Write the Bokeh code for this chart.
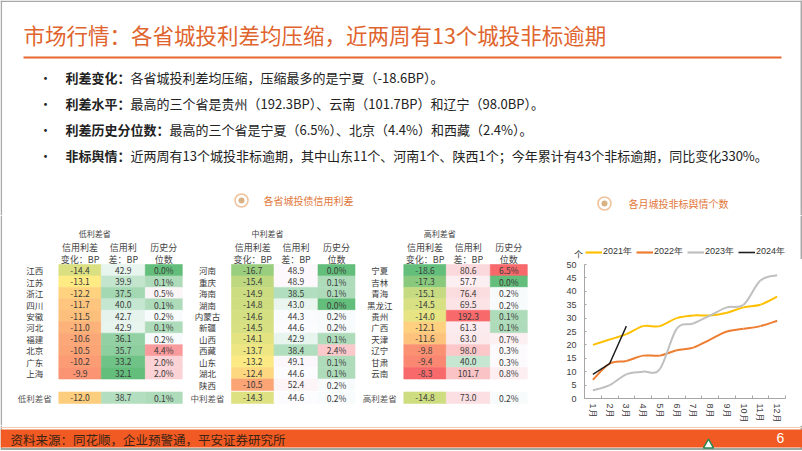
import numpy as np
from bokeh.plotting import figure
from bokeh.models import (Range1d, ColumnDataSource, LinearColorMapper, FixedTicker,
                          Legend, LegendItem)
from bokeh.layouts import column, row
from bokeh.embed import file_html
from bokeh.resources import INLINE
from bokeh.core.properties import value

CJK = "Noto Sans CJK SC"
LAT = "Liberation Sans"

# ------------------------------------------------------------------ data
title = "市场行情：各省城投利差均压缩，近两周有13个城投非标逾期"
bullet_heads = ["利差变化：", "利差水平：", "利差历史分位数：", "非标舆情："]
bullet_bodies = [
    "各省城投利差均压缩，压缩最多的是宁夏（-18.6BP）。",
    "最高的三个省是贵州（192.3BP）、云南（101.7BP）和辽宁（98.0BP）。",
    "最高的三个省是宁夏（6.5%）、北京（4.4%）和西藏（2.4%）。",
    "近两周有13个城投非标逾期，其中山东11个、河南1个、陕西1个；今年累计有43个非标逾期，同比变化330%。",
]
heading_left = "各省城投债信用利差"
heading_right = "各月城投非标舆情个数"
source_note = "资料来源：同花顺，企业预警通，平安证券研究所"
page_no = "6"

group_titles = ["低利差省", "中利差省", "高利差省"]
col_headers = [("信用利差", "变化：BP"), ("信用利", "差：BP"), ("历史分", "位数")]

low_names = ["江西", "江苏", "浙江", "四川", "安徽", "河北", "福建", "北京", "广东", "上海"]
low_chg = [-14.4, -13.1, -12.2, -11.7, -11.5, -11.0, -10.6, -10.5, -10.2, -9.9]
low_spread = [42.9, 39.9, 37.5, 40.0, 42.7, 42.9, 36.1, 35.7, 33.2, 32.1]
low_pct = [0.0, 0.1, 0.5, 0.1, 0.2, 0.1, 0.2, 4.4, 2.0, 2.0]
low_avg = [-12.0, 38.7, 0.1]

mid_names = ["河南", "重庆", "海南", "湖南", "内蒙古", "新疆", "山西", "西藏", "山东", "湖北", "陕西"]
mid_chg = [-16.7, -15.4, -14.9, -14.8, -14.6, -14.5, -14.1, -13.7, -13.2, -12.4, -10.5]
mid_spread = [48.9, 48.9, 38.5, 43.0, 44.3, 44.6, 42.9, 38.4, 49.1, 44.6, 52.4]
mid_pct = [0.0, 0.1, 0.1, 0.0, 0.2, 0.2, 0.1, 2.4, 0.1, 0.1, 0.2]
mid_avg = [-14.3, 44.6, 0.2]

high_names = ["宁夏", "吉林", "青海", "黑龙江", "贵州", "广西", "天津", "辽宁", "甘肃", "云南"]
high_chg = [-18.6, -17.3, -15.1, -14.5, -14.0, -12.1, -11.6, -9.8, -9.4, -8.3]
high_spread = [80.6, 57.7, 76.4, 69.5, 192.3, 61.3, 63.0, 98.0, 40.0, 101.7]
high_pct = [6.5, 0.0, 0.2, 0.2, 0.1, 0.1, 0.7, 0.3, 0.3, 0.8]
high_avg = [-14.8, 73.0, 0.2]

months = ["1月", "2月", "3月", "4月", "5月", "6月", "7月", "8月", "9月", "10月", "11月", "12月"]
years = ["2021年", "2022年", "2023年", "2024年"]
s2021 = [20, 22, 24, 27, 27, 30, 31, 31, 32, 34, 35, 38]
s2022 = [7, 13, 14, 16, 16, 18, 19, 22, 25, 26, 27, 29]
s2023 = [3, 5, 9, 10, 11, 26, 28, 31, 34, 35, 44, 46]
s2024 = [9, 13, 27]
unit_label = "个"

# ------------------------------------------------------------------ styles
ORANGE = "#E0642D"
TXT = "#333333"
BORDER = "#A8A8A8"
GREEN, YELLOW, WHITE, RED = "#63BE7B", "#FFEB84", "#FCFCFF", "#F8696B"
LINE_COLORS = ["#FFC000", "#ED7D31", "#BFBFBF", "#1F1F1F"]


def base_fig(w, h, xr, yr):
    f = figure(width=w, height=h, x_range=Range1d(*xr), y_range=Range1d(*yr),
               x_axis_type=None, y_axis_type=None, toolbar_location=None,
               output_backend="svg", min_border=0, outline_line_color=None,
               background_fill_color="white", border_fill_color="white",
               frame_align=False)
    f.grid.visible = False
    return f


def txt(f, x, y, s, size, color=TXT, align="left", font=CJK, style="normal"):
    f.text(x=[x], y=[y], text=[s], text_font=value(font), text_font_size=size,
           text_color=color, text_align=align, text_baseline="middle",
           text_font_style=style)


def vline(f, x, y0, y1):
    f.segment(x0=[x], y0=[y0], x1=[x], y1=[y1], line_color=BORDER, line_width=1.5)


# ------------------------------------------------------------------ top area
top = base_fig(802, 215, (0, 802), (215, 0))
top.segment(x0=[0], y0=[0.8], x1=[802], y1=[0.8], line_color=BORDER, line_width=1.5)
vline(top, 0.8, 0, 215)
vline(top, 800.8, 0, 215)
txt(top, 23, 33.5, title, "21.5px", ORANGE)
top.segment(x0=[23], y0=[57], x1=[781], y1=[57], line_color="#E8672F", line_width=2)

BUL_Y = [76.5, 102.5, 128.5, 154.5]
FS = 13.0
for yy, head, body in zip(BUL_Y, bullet_heads, bullet_bodies):
    txt(top, 45, yy, "•", "13px", "#222222", align="center")
    txt(top, 65, yy, head, "13px", "#222222", style="bold")
    txt(top, 65 + len(head) * FS, yy, body, "13px", "#222222")

for (cx, cy, tx, s) in [(241, 200, 263, heading_left), (604, 203, 628, heading_right)]:
    top.scatter(x=[cx], y=[cy], size=13, marker="circle", fill_color="white",
                line_color="#F0C39C", line_width=1.6)
    top.scatter(x=[cx], y=[cy], size=6, marker="circle", fill_color="#D8B283",
                line_color=None)
    txt(top, tx, cy, s, "10px", "#E2773A")

# ------------------------------------------------------------------ table
tbl = base_fig(555, 210, (0, 555), (425, 215))
vline(tbl, 0.8, 215, 425)

groups = [
    (low_names, low_chg, low_spread, low_pct, low_avg),
    (mid_names, mid_chg, mid_spread, mid_pct, mid_avg),
    (high_names, high_chg, high_spread, high_pct, high_avg),
]
X0 = [58.3, 231.0, 403.3]
COL_LEFT = [0.0, 42.5, 86.5]
COL_W = [42.5, 44.0, 37.0]
ROW_TOP, ROW_H, AVG_Y = 264.0, 11.45, 397.2
FMT = ["{:.1f}", "{:.1f}", "{:.1f}%"]


def scale_palette(lo, mid, hi, c0, c1, c2, n=800):
    def rgb(h):
        h = h.lstrip("#")
        return [int(h[i:i + 2], 16) for i in (0, 2, 4)]
    a0, a1, a2 = rgb(c0), rgb(c1), rgb(c2)
    out = []
    for v in np.linspace(lo, hi, n):
        if v <= mid:
            t, a, b = (v - lo) / (mid - lo), a0, a1
        else:
            t, a, b = (v - mid) / (hi - mid), a1, a2
        out.append("#%02x%02x%02x" % tuple(int(round(a[i] + (b[i] - a[i]) * t)) for i in range(3)))
    return out


for k in range(3):
    allv = np.array([v for g in groups for v in g[k + 1]], dtype=float)
    lo, md, hi = allv.min(), float(np.median(allv)), allv.max()
    cols = (GREEN, YELLOW, RED) if k == 0 else (GREEN, WHITE, RED)
    mapper = LinearColorMapper(palette=scale_palette(lo, md, hi, *cols), low=lo, high=hi)
    d = dict(x=[], y=[], w=[], v=[], s=[])
    for gi, g in enumerate(groups):
        vals = list(g[k + 1]) + [g[4][k]]
        ys = [ROW_TOP + ROW_H * (i + 0.5) for i in range(len(g[k + 1]))] + [AVG_Y]
        for v, yy in zip(vals, ys):
            d["x"].append(X0[gi] + COL_LEFT[k] + COL_W[k] / 2)
            d["y"].append(yy)
            d["w"].append(COL_W[k])
            d["v"].append(v)
            d["s"].append(FMT[k].format(v))
    src = ColumnDataSource(d)
    tbl.rect(x="x", y="y", width="w", height=ROW_H, source=src,
             fill_color={"field": "v", "transform": mapper},
             line_color={"field": "v", "transform": mapper}, line_width=0.6)
    tbl.text(x="x", y="y", text="s", source=src, text_font=value(CJK),
             text_font_size="8.5px", text_color="#3a3a3a", text_align="center",
             text_baseline="middle")

for gi, g in enumerate(groups):
    names = g[0]
    ys = [ROW_TOP + ROW_H * (i + 0.5) for i in range(len(names))]
    tbl.text(x=[X0[gi] - 24] * len(names), y=ys, text=names, text_font=value(CJK),
             text_font_size="8.5px", text_color="#3a3a3a", text_align="center",
             text_baseline="middle")
    txt(tbl, X0[gi] - 24, AVG_Y, group_titles[gi], "8.5px", "#555555", align="center")
    txt(tbl, X0[gi] + 36, 233, group_titles[gi], "8px", "#444444", align="center")
    for k in range(3):
        cx = X0[gi] + COL_LEFT[k] + COL_W[k] / 2
        txt(tbl, cx, 247, col_headers[k][0], "9px", "#444444", align="center")
        txt(tbl, cx, 258.5, col_headers[k][1], "9px", "#444444", align="center")

# ------------------------------------------------------------------ chart legend strip
leg = base_fig(247, 44, (555, 802), (259, 215))
vline(leg, 800.8, 215, 259)
txt(leg, 578, 253.5, unit_label, "9px", "#333333", align="center")

# ------------------------------------------------------------------ line chart
ch = figure(width=247, height=166, x_range=Range1d(0.5, 12.5), y_range=Range1d(0, 50),
            toolbar_location=None, output_backend="svg", min_border_left=29,
            min_border_right=17, min_border_top=5, min_border_bottom=27,
            outline_line_color=None, background_fill_color="white",
            border_fill_color="white", frame_align=False)
ch.grid.visible = False

xm = np.arange(1, 13)


def smooth_source(xs, ys):
    P = np.column_stack([xs, ys]).astype(float)
    n = len(P)
    d = dict(x0=[], y0=[], x1=[], y1=[], cx0=[], cy0=[], cx1=[], cy1=[])
    for i in range(n - 1):
        p0 = P[i - 1] if i > 0 else P[i]
        p1, p2 = P[i], P[i + 1]
        p3 = P[i + 2] if i + 2 < n else P[i + 1]
        c1 = p1 + (p2 - p0) / 6.0
        c2 = p2 - (p3 - p1) / 6.0
        for key, val in zip(["x0", "y0", "x1", "y1", "cx0", "cy0", "cx1", "cy1"],
                            [p1[0], p1[1], p2[0], p2[1], c1[0], c1[1], c2[0], c2[1]]):
            d[key].append(val)
    return ColumnDataSource(d)


items = []
for ser, col, yr in zip([s2021, s2022, s2023], LINE_COLORS[:3], years[:3]):
    ch.bezier(x0="x0", y0="y0", x1="x1", y1="y1", cx0="cx0", cy0="cy0", cx1="cx1",
              cy1="cy1", source=smooth_source(xm[:len(ser)], ser), line_color=col,
              line_width=2)
    # legend-only renderer (a single NaN point draws nothing)
    dummy = leg.line(x=[np.nan], y=[np.nan], line_color=col, line_width=2.2)
    items.append(LegendItem(label=yr, renderers=[dummy]))
ch.line(x=xm[:len(s2024)], y=s2024, line_color=LINE_COLORS[3], line_width=1.4)
dummy = leg.line(x=[np.nan], y=[np.nan], line_color=LINE_COLORS[3], line_width=1.6)
items.append(LegendItem(label=years[3], renderers=[dummy]))

legend = Legend(items=items, orientation="horizontal", location=(30, 1),
                border_line_color=None, background_fill_alpha=0, padding=0, margin=0,
                spacing=4, glyph_width=17, glyph_height=10, label_standoff=1,
                label_height=10, label_text_font_size="9px", label_text_font=LAT,
                label_text_color="#333333")
leg.add_layout(legend)

ch.xaxis.ticker = FixedTicker(ticks=list(range(1, 13)),
                              minor_ticks=[i + 0.5 for i in range(13)])
ch.xaxis.major_label_overrides = {i + 1: m for i, m in enumerate(months)}
ch.xaxis.major_label_orientation = "vertical"
ch.xaxis.major_tick_in = 0
ch.xaxis.major_tick_out = 0
ch.xaxis.minor_tick_in = 3
ch.xaxis.minor_tick_out = 0
ch.xaxis.major_label_standoff = 5
ch.yaxis.ticker = FixedTicker(ticks=list(range(0, 51, 5)))
ch.yaxis.major_tick_in = 2
ch.yaxis.major_tick_out = 0
ch.yaxis.minor_tick_in = 0
ch.yaxis.minor_tick_out = 0
ch.yaxis.major_label_standoff = 8
for ax in (ch.xaxis, ch.yaxis):
    ax.axis_line_color = "#A6A6A6"
    ax.major_tick_line_color = "#A6A6A6"
    ax.minor_tick_line_color = "#A6A6A6"
    ax.major_label_text_font = LAT
    ax.major_label_text_font_size = "9px"
    ax.major_label_text_color = "#404040"

# ------------------------------------------------------------------ footer
foot = base_fig(802, 26, (0, 802), (451, 425))
vline(foot, 0.8, 425, 448)
vline(foot, 800.8, 425, 448)
foot.segment(x0=[0], y0=[427], x1=[802], y1=[427], line_color="#F6CDB2", line_width=1)
foot.quad(left=[0], right=[802], top=[429], bottom=[447], fill_color="#F15A22",
          line_color=None)
foot.segment(x0=[0], y0=[448.5], x1=[802], y1=[448.5], line_color="#7E8E80", line_width=1.5)
foot.scatter(x=[708], y=[444.5], marker="triangle", size=10, fill_color="white",
             line_color="#2E8B57", line_width=1.5)
txt(foot, 10, 438.5, source_note, "12.5px", "#3C2415")
txt(foot, 780, 437.5, page_no, "14px", "white", align="center", font=LAT)

layout = column(top, row(tbl, column(leg, ch)), foot)
open("out.html", "w").write(file_html(layout, INLINE))
